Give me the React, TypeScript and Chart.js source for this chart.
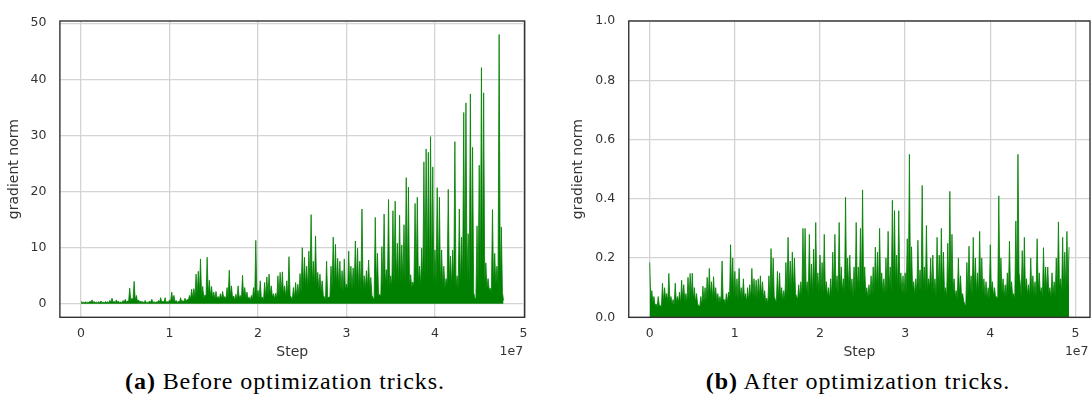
import React, { useEffect, useRef } from "react";
import { Chart, registerables } from "chart.js";

Chart.register(...registerables);

// ---------- data ----------
// Samples every STEP_INTERVAL steps; a peak reading at each sample and the
// trough (base level of the dense trace) read half-way between samples.
const STEP_INTERVAL = 250000;

const BEFORE_PEAKS = [
  0.4, 0.3, 0.35, 0.3, 0.45, 0.7, 0.4, 0.3, 0.35, 0.5,
  0.3, 0.4, 0.35, 0.6, 1.0, 0.4, 0.7, 0.45, 0.35, 0.6,
  0.8, 0.5, 2.8, 1.0, 4.0, 1.5, 0.7, 0.5, 0.4, 0.6,
  0.3, 0.5, 0.8, 0.4, 0.35, 0.6, 1.1, 0.5, 1.1, 0.4,
  0.7, 2.1, 1.5, 0.6, 0.5, 1.1, 0.6, 1.0, 0.8, 1.5,
  2.6, 2.7, 5.3, 5.8, 8.0, 3.1, 1.6, 8.3, 4.2, 3.1,
  2.1, 2.2, 1.3,
  1.8, 2.2, 1.3, 2.9, 6.0, 3.2, 1.4, 1.7, 3.2, 1.5,
  5.1, 2.9, 2.1, 1.2, 1.5, 2.9, 11.3, 2.4, 4.1, 1.2,
  3.8, 4.8, 5.3, 3.2, 1.8, 1.9, 5.0, 5.6, 5.7, 3.2,
  4.1, 8.4, 1.2, 2.9, 3.8, 3.5, 5.4, 10.0, 8.3, 6.7,
  9.4, 15.9, 7.6, 12.1, 5.6, 5.3, 4.1, 1.2, 7.6, 1.2,
  6.7, 11.9, 10.6, 8.1, 7.6, 5.9, 8.0, 3.5, 9.4, 6.7,
  6.4, 11.2, 9.9, 7.6, 16.9, 5.0, 5.9, 7.8,
  4.7, 1.1, 15.4, 9.0, 1.7, 10.2, 16.0, 6.1, 18.6, 5.0,
  16.6, 18.3, 10.8, 15.8, 10.5, 14.1, 22.5, 20.8, 5.2, 3.9,
  17.9, 19.0, 6.7, 9.9, 25.3, 27.6, 27.0, 29.8, 24.4, 9.6,
  20.7, 19.0, 9.6, 6.7, 4.5, 20.4, 8.5, 9.6, 28.9, 5.0,
  16.9, 11.9, 34.1, 35.8, 12.5, 37.4, 27.9, 1.1, 13.9, 24.7,
  42.1, 37.6, 7.3, 4.5, 2.8, 16.8, 9.0, 6.7, 48.0, 13.7,
  0.6,
];

const BEFORE_TROUGHS = [
  0.25, 0.2, 0.2, 0.25, 0.3, 0.25, 0.2, 0.2, 0.25, 0.2,
  0.2, 0.25, 0.2, 0.3, 0.3, 0.25, 0.3, 0.2, 0.2, 0.3,
  0.3, 0.4, 0.6, 0.7, 0.6, 0.4, 0.3, 0.25, 0.2, 0.2,
  0.25, 0.3, 0.2, 0.2, 0.25, 0.3, 0.3, 0.3, 0.25, 0.3,
  0.4, 0.5, 0.3, 0.25, 0.3, 0.3, 0.35, 0.4,
  0.6, 0.8, 1.0, 1.2, 1.5, 1.8, 1.4, 1.0, 1.2, 1.5, 1.3, 1.0, 0.8, 0.9, 0.8,
  0.9, 1.0, 0.8, 1.1, 1.4, 1.0, 0.7, 0.8, 1.0, 0.8,
  1.2, 1.0, 0.8, 0.6, 0.8, 1.0, 1.2, 0.9, 1.0, 0.7,
  1.1, 1.5, 1.6, 1.2, 0.9, 1.0, 1.5, 1.8, 1.7, 1.2,
  1.4, 1.5, 0.7, 1.0, 1.3, 1.5, 2.0, 2.8, 3.0, 2.6,
  3.2, 3.5, 3.0, 3.2, 2.5, 2.2, 1.5, 0.6,
  1.0, 1.2, 2.5, 3.0, 3.2, 2.8, 2.5, 2.0, 2.6, 2.4,
  2.8, 2.6, 3.0, 3.2, 2.5, 2.2, 2.4, 2.6, 2.8, 2.5,
  1.5, 0.8, 3.0, 1.5, 1.2, 3.0, 3.5, 3.0, 2.8, 3.2,
  3.5, 3.8, 3.2, 3.5, 4.0, 3.6, 4.2, 3.0, 2.8, 3.2,
  3.8, 3.5, 3.0, 4.0, 4.5, 4.2, 4.0, 4.5, 3.8, 3.5,
  4.0, 3.5, 3.2, 2.8, 3.5, 3.8, 3.2, 3.5, 3.0, 2.8,
  3.2, 3.8, 4.2, 4.0, 3.5, 4.5, 2.0, 0.8, 3.0, 3.8,
  4.5, 3.5, 2.8, 2.5, 2.0, 3.0, 3.5, 3.5, 4.0, 2.0,
];

const AFTER_PEAKS = [
  0.185, 0.09, 0.07, 0.045, 0.07, 0.04, 0.115, 0.1, 0.08, 0.148,
  0.07, 0.06, 0.115, 0.07, 0.085, 0.125, 0.11, 0.08, 0.135, 0.148,
  0.149, 0.1, 0.08, 0.04, 0.07, 0.105, 0.1, 0.135, 0.165, 0.12,
  0.137, 0.1, 0.08, 0.07, 0.19, 0.06, 0.08, 0.085, 0.245, 0.2,
  0.155, 0.13, 0.165, 0.1, 0.13, 0.08, 0.1, 0.11, 0.165, 0.13,
  0.125, 0.13, 0.14, 0.12, 0.09, 0.065, 0.14, 0.232, 0.2, 0.06,
  0.155, 0.15, 0.1, 0.09, 0.185,
  0.27, 0.19, 0.22, 0.2, 0.07, 0.11, 0.12, 0.3, 0.3, 0.12,
  0.28, 0.18, 0.23, 0.32, 0.15, 0.21, 0.185, 0.28, 0.12, 0.1,
  0.13, 0.22, 0.28, 0.14, 0.32, 0.17, 0.13, 0.405, 0.2, 0.21,
  0.13, 0.17, 0.32, 0.17, 0.3, 0.43, 0.17, 0.1, 0.11, 0.14,
  0.17, 0.237, 0.22, 0.3, 0.15, 0.13, 0.2, 0.29, 0.17, 0.395,
  0.36, 0.21, 0.36, 0.15, 0.14,
  0.15, 0.265, 0.55, 0.238, 0.12, 0.13, 0.26, 0.16, 0.445, 0.17,
  0.31, 0.13, 0.2,
  0.21, 0.13, 0.27, 0.21, 0.3, 0.22, 0.1, 0.25, 0.425, 0.28,
  0.13, 0.09, 0.2, 0.14, 0.08, 0.044, 0.185, 0.24, 0.14, 0.27,
  0.2, 0.15, 0.29, 0.2, 0.13, 0.12, 0.1, 0.245, 0.12, 0.1,
  0.07, 0.41, 0.2, 0.13, 0.11, 0.15, 0.257, 0.12, 0.08, 0.325,
  0.55, 0.12, 0.225, 0.27, 0.13, 0.11, 0.2, 0.14, 0.12, 0.265,
  0.15, 0.1, 0.235, 0.17, 0.17, 0.1, 0.15, 0.12, 0.2, 0.322,
  0.13, 0.27, 0.22, 0.29, 0.237,
];

const AFTER_TROUGHS = [
  0.06, 0.05, 0.04, 0.035, 0.04, 0.035, 0.05, 0.06, 0.05, 0.055,
  0.045, 0.04, 0.05, 0.05, 0.045, 0.06, 0.055, 0.05, 0.06, 0.065,
  0.06, 0.05, 0.045, 0.035, 0.04, 0.05, 0.055, 0.06, 0.07, 0.06,
  0.065, 0.055, 0.05, 0.05, 0.06, 0.045, 0.05, 0.06,
  0.08, 0.07, 0.065, 0.06, 0.07, 0.06, 0.065, 0.05, 0.055, 0.06,
  0.07, 0.065, 0.06, 0.065, 0.07, 0.06, 0.05, 0.045, 0.06, 0.08,
  0.07, 0.05, 0.06, 0.065, 0.055, 0.06, 0.07,
  0.09, 0.08, 0.085, 0.08, 0.06, 0.065, 0.07, 0.09, 0.085, 0.07,
  0.08, 0.075, 0.09, 0.095, 0.08, 0.085, 0.08, 0.09, 0.07, 0.06,
  0.07, 0.08, 0.09, 0.08, 0.095, 0.085, 0.07, 0.1, 0.09, 0.085,
  0.07, 0.08, 0.095, 0.085, 0.09, 0.1, 0.08, 0.065, 0.07, 0.075,
  0.08, 0.09, 0.085, 0.1, 0.08, 0.075, 0.085, 0.095, 0.08, 0.1,
  0.11, 0.09, 0.1, 0.08, 0.075, 0.08, 0.09, 0.12, 0.095, 0.075,
  0.08, 0.09, 0.085, 0.1, 0.085, 0.09, 0.1, 0.08,
  0.085, 0.07, 0.09, 0.085, 0.095, 0.08, 0.065, 0.09, 0.1, 0.09,
  0.07, 0.06, 0.075, 0.07, 0.055, 0.04, 0.07, 0.085, 0.07, 0.09,
  0.08, 0.075, 0.09, 0.08, 0.07, 0.065, 0.06, 0.085, 0.07, 0.065,
  0.06, 0.1, 0.08, 0.07, 0.065, 0.075, 0.085, 0.07, 0.06, 0.1,
  0.15, 0.07, 0.08, 0.09, 0.075, 0.07, 0.08, 0.075, 0.07, 0.09,
  0.08, 0.065, 0.08, 0.085, 0.08, 0.065, 0.075, 0.07, 0.08, 0.1,
  0.08, 0.085, 0.09, 0.1,
];

const X_TICKS = [0, 1e7, 2e7, 3e7, 4e7, 5e7];
const X_TICK_LABELS = ["0", "1", "2", "3", "4", "5"];
const BEFORE_Y_TICKS = [0, 10, 20, 30, 40, 50];
const BEFORE_Y_LABELS = ["0", "10", "20", "30", "40", "50"];
const AFTER_Y_TICKS = [0, 0.2, 0.4, 0.6, 0.8, 1.0];
const AFTER_Y_LABELS = ["0.0", "0.2", "0.4", "0.6", "0.8", "1.0"];
const X_TITLE = "Step";
const Y_TITLE = "gradient norm";
const OFFSET_TEXT = "1e7";
const CAPTION_A_TAG = "(a)";
const CAPTION_A = " Before optimization tricks.";
const CAPTION_B_TAG = "(b)";
const CAPTION_B = " After optimization tricks.";

// ---------- styling ----------
const W = 546;
const H = 365;
const TEXT_COLOR = "#333333";
const GRID_COLOR = "#d4d4d4";
const LINE_COLOR = "#008000";
const SANS = "'DejaVu Sans', sans-serif";

type PanelProps = {
  peaks: number[];
  troughs: number[];
  canvasLeft: number;
  xMin: number;
  xMax: number;
  yMin: number;
  yMax: number;
  yTicks: number[];
  yLabels: string[];
  area: { left: number; right: number; top: number; bottom: number };
  yTitlePad: number;
};

function buildSeries(peaks: number[], troughs: number[]) {
  const pts: { x: number; y: number }[] = [];
  peaks.forEach((y, i) => {
    pts.push({ x: i * STEP_INTERVAL, y });
    if (i < troughs.length && i < peaks.length - 1) {
      pts.push({ x: (i + 0.5) * STEP_INTERVAL, y: troughs[i] });
    }
  });
  return pts;
}

function Panel(p: PanelProps) {
  const ref = useRef<HTMLCanvasElement | null>(null);
  useEffect(() => {
    if (!ref.current) return;
    const data = buildSeries(p.peaks, p.troughs);
    const framePlugin = {
      id: "frameAndOffset",
      afterDraw(chart: any) {
        const { ctx, chartArea: a } = chart;
        ctx.save();
        ctx.strokeStyle = "#333333";
        ctx.lineWidth = 1.4;
        ctx.strokeRect(a.left, a.top, a.right - a.left, a.bottom - a.top);
        ctx.fillStyle = TEXT_COLOR;
        ctx.font = `12.5px ${SANS}`;
        ctx.textAlign = "right";
        ctx.textBaseline = "middle";
        ctx.fillText(OFFSET_TEXT, a.right - 1.5, 351.7);
        ctx.restore();
      },
    };
    const chart = new Chart(ref.current, {
      type: "line",
      data: {
        datasets: [
          {
            data,
            borderColor: LINE_COLOR,
            backgroundColor: LINE_COLOR,
            borderWidth: 0.8,
            fill: "origin",
            pointRadius: 0,
            tension: 0,
          },
        ],
      },
      options: {
        animation: false,
        responsive: false,
        maintainAspectRatio: false,
        layout: {
          padding: { left: 0, top: p.area.top, right: W - p.area.right, bottom: 0 },
        },
        plugins: { legend: { display: false }, tooltip: { enabled: false } },
        scales: {
          x: {
            type: "linear",
            min: p.xMin,
            max: p.xMax,
            grid: { color: GRID_COLOR, lineWidth: 1.3, drawTicks: false },
            border: { display: false },
            ticks: {
              autoSkip: false,
              maxRotation: 0,
              padding: 8.5,
              color: TEXT_COLOR,
              font: { family: SANS, size: 12.5 },
              callback: (v: any) => {
                const i = X_TICKS.indexOf(Number(v));
                return i >= 0 ? X_TICK_LABELS[i] : "";
              },
            },
            afterBuildTicks: (axis: any) => {
              axis.ticks = X_TICKS.map((value) => ({ value }));
            },
            afterFit: (axis: any) => {
              axis.height = H - p.area.bottom;
            },
            title: {
              display: true,
              text: X_TITLE,
              color: TEXT_COLOR,
              font: { family: SANS, size: 14 },
              padding: { top: 0, bottom: 4 },
            },
          },
          y: {
            type: "linear",
            min: p.yMin,
            max: p.yMax,
            grid: { color: GRID_COLOR, lineWidth: 1.3, drawTicks: false },
            border: { display: false },
            ticks: {
              autoSkip: false,
              padding: 13.5,
              color: TEXT_COLOR,
              font: { family: SANS, size: 12.5 },
              callback: (v: any) => {
                const i = p.yTicks.findIndex((t) => Math.abs(t - Number(v)) < 1e-9);
                return i >= 0 ? p.yLabels[i] : "";
              },
            },
            afterBuildTicks: (axis: any) => {
              axis.ticks = p.yTicks.map((value) => ({ value }));
            },
            afterFit: (axis: any) => {
              axis.width = p.area.left;
            },
            title: {
              display: true,
              text: Y_TITLE,
              color: TEXT_COLOR,
              font: { family: SANS, size: 14 },
              padding: { top: p.yTitlePad, bottom: 0 },
            },
          },
        },
      },
      plugins: [framePlugin],
    } as any);
    return () => chart.destroy();
  }, []);
  return (
    <canvas
      ref={ref}
      width={W}
      height={H}
      style={{ position: "absolute", left: p.canvasLeft, top: 0, width: W, height: H }}
    />
  );
}

const captionStyle = (center: number): React.CSSProperties => ({
  position: "absolute",
  left: center,
  top: 369,
  transform: "translateX(-50%)",
  whiteSpace: "nowrap",
  fontFamily: "'Liberation Serif', 'Times New Roman', serif",
  fontSize: 24,
  lineHeight: "24px",
  letterSpacing: "0.9px",
  color: "#000",
});

export default function App() {
  return (
    <div
      style={{
        position: "fixed",
        left: 0,
        top: 0,
        width: 1092,
        height: 405,
        background: "#ffffff",
        overflow: "hidden",
      }}
    >
      <Panel
        peaks={BEFORE_PEAKS}
        troughs={BEFORE_TROUGHS}
        canvasLeft={0}
        xMin={-0.239e7}
        xMax={5.014e7}
        yMin={-2.4}
        yMax={50.4}
        yTicks={BEFORE_Y_TICKS}
        yLabels={BEFORE_Y_LABELS}
        area={{ left: 59.9, right: 524.7, top: 14.3, bottom: 317.3 }}
        yTitlePad={6.1}
      />
      <Panel
        peaks={AFTER_PEAKS}
        troughs={AFTER_TROUGHS}
        canvasLeft={546}
        xMin={-0.246e7}
        xMax={5.171e7}
        yMin={0}
        yMax={1}
        yTicks={AFTER_Y_TICKS}
        yLabels={AFTER_Y_LABELS}
        area={{ left: 82.75, right: 544, top: 16, bottom: 317.3 }}
        yTitlePad={24.3}
      />
      <div style={captionStyle(285)}>
        <b>{CAPTION_A_TAG}</b>
        {CAPTION_A}
      </div>
      <div style={captionStyle(858)}>
        <b>{CAPTION_B_TAG}</b>
        {CAPTION_B}
      </div>
    </div>
  );
}
